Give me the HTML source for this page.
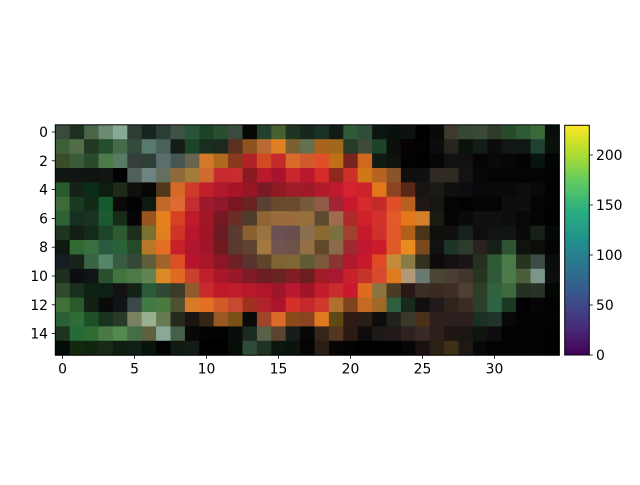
<!DOCTYPE html>
<html><head><meta charset="utf-8"><style>
body{margin:0;background:#fff;}
svg text{font-family:"DejaVu Sans","Liberation Sans",sans-serif;font-size:13.9px;fill:#000;}
</style></head><body>
<svg id="chart" width="640" height="480" xmlns="http://www.w3.org/2000/svg">
<defs><linearGradient id="vir" x1="0" y1="1" x2="0" y2="0">
<stop offset="0" stop-color="#440154"/><stop offset="0.125" stop-color="#472d7b"/><stop offset="0.25" stop-color="#3b528b"/><stop offset="0.375" stop-color="#2c728e"/><stop offset="0.5" stop-color="#21918c"/><stop offset="0.625" stop-color="#28ae80"/><stop offset="0.75" stop-color="#5ec962"/><stop offset="0.875" stop-color="#addc30"/><stop offset="1" stop-color="#fde725"/></linearGradient></defs>
<g id="cells"></g>
<rect x="55.3" y="124.8" width="504" height="230.4" fill="none" stroke="#000" stroke-width="1"/>
<g id="xt"></g>
<g id="yt"></g>
<rect x="564.7" y="125.3" width="24.6" height="229.7" fill="url(#vir)" stroke="#000" stroke-width="1"/>
<g id="ct"></g>
</svg>
<script>
const rows=[
"3a4a3e 1e3020 4a6448 6a8a72 88a898 2e3e32 182420 2a3e36 3e5244 2a5238 1e4228 284e30 3a4a40 060604 24402a 466030 1e3420 18261c 183224 121c14 2e5a38 2e4e38 0a1410 0a100c 0c1210 000000 0a0a0a 3e3a30 344834 3a4a34 2e3a2a 2a4a2c 2e5a34 3a6a38 0a0e0a",
"3e6038 526e48 243624 244e2c 466a48 344a3a 587a6c 4a625a 141e16 1c4428 1a2e20 1c2a1e 5a3020 8e5420 b86a30 e08024 7a6030 647050 a86418 a0681c 283a28 3e4a38 1c4228 0c0e0c 060204 020202 0c0c0c 26261e 0a120c 121c16 0c0c0c 121614 101816 204030 0a100c",
"3a4c28 3a5a38 2a4a2c 4c7a4a 5a7a66 343e3a 2e4036 5a6e6e 465652 686450 d4782a b06a1c 8a3a1c b02428 d44a24 c42a2c d86a2c d05a2c e05028 c07018 7a2420 d06820 101a12 101210 020204 000000 060606 121010 121010 060404 0a0808 080606 040202 081410 020404",
"101612 121414 101410 121612 020204 52605a 6e8480 64705e 906a3a a07c3a d06a30 c42c30 c82c2c 8a1a22 b81a2c a81430 c8262c b8182e d42a28 902820 cc3028 d07818 b86222 8a5428 100e0e 101010 302a22 302a22 141212 080606 040404 040404 040404 060404 020202",
"285a2e 142218 0a2e18 0e1c12 1e2a1a 0e100c 060604 54381e d46a24 d03a28 c0202c b0182c a81428 981624 7a1a24 8e1a24 9e1c28 9e1a28 b01a2a c01a30 d4222e cc222c e07818 8a4420 5a2818 181414 1a1a16 100e0e 0e0c10 0a0808 0a0808 0a0808 0e0c0c 0a0808 020202",
"3e6a38 1a3a20 142a18 145a2c 0a0808 020204 0e1a10 c06a2a e06a30 c42e30 a0182c 90182a 7a1620 6a2420 5a4034 6a4a2c 6a4c2c 765a3a 905c48 a02434 c8182c d42a2c c42a28 e05028 b86020 201618 141612 040404 020202 040404 040404 0e0e0e 0e0e0e 040404 020202",
"2e6234 163020 183420 1e5a30 182a18 060406 9a5420 e4801e d84024 be1a2c a01828 781822 6a2e24 4e3c2c 906434 9a6c3c 9a6c3c 96703a 5e4a30 a06a4c b02a2a d0202c d4302c e05a2a e47818 d4802a 1a1a10 040404 0a0a0a 101010 101010 0e0e0e 080808 040404 000000",
"1e3420 121e16 142a1a 1e4428 2e5a30 1e2e1c 7a7030 e0801e d03428 b8162c a01628 6a1a20 5a3a30 8a6030 9a7440 6a5052 6a4e4e 8a7052 8a6a30 7a7040 a04030 c41a2c d0302c e05828 b06018 4a3418 0e100c 101010 182020 0e0e10 121414 101414 0a0a0a 142018 040808",
"0e1a10 326a34 386e40 2a5a40 2a6238 244a28 b87828 e46e24 c82028 b0162c a01628 701a20 5a3a30 5e4430 a07840 705450 6e5248 947044 604828 8a6a48 9e2a30 c01830 cc1c2c e05a28 e88c20 7a4a1e 101212 1e3426 2e3a2a 2a2220 142018 2e5432 101210 0c0e0a 040404",
"161e24 182418 386444 56866a 3a5a44 344838 5e5e3a a0642a dc5024 b81430 a81628 8c1628 6e2024 5a3430 5e4428 7e6434 806634 605a36 7a5a3a 8a3434 b0182c c81a2c e04a24 c48c3a 8a7a48 32301e 0e0a0a 141010 1a1418 26301e 2e5a34 4a7a48 263420 3e4c48 0a0c0c",
"1e2e1e 0e0e12 101414 2a5030 427440 4e7a4a 628450 dc8a28 e06a20 c8402e c0202c a81828 981a28 801a26 6a1e24 6a2420 801e22 6a1e20 a01a28 a81830 c8202c c43428 d84a2e e07a20 b09878 6a7a72 4a4432 4a3e32 42362c 263420 30583a 4c7a48 4a5e3a 7a968a 0c0e0e",
"304a2e 18301c 0e2214 0e2014 121212 142218 2a5a38 304834 3a3c28 905a2c c82a2c be1a2c c01c2c b8182c b0162a 9e162c ba1830 a01428 c01c2c c82c2c c81a2c e06a20 8a7440 4a3c24 2a1614 3a2e26 3a2a22 3e2e26 4e4032 2e3e2a 326240 3e6a3e 223222 2a3228 040604",
"3e7038 2a5a2c 122012 0a0a0a 101416 3a4a4a 427a44 4a7a40 4e5030 d87a26 e46e24 d05a28 c84830 a03020 b0222c ac142c d43028 c4282c d03a2c b07030 7e4420 c46a24 a06a26 2e6040 182a1a 120e0e 221a1a 2e241c 3a2c24 2e3e2e 2e6444 1a3a24 020002 060406 020202",
"2a6034 2e6c38 1e5028 183420 2a3a28 7a8060 98b090 6a7a50 262a1c 1c1410 362616 9a5824 7a5018 0a0a08 a04428 dc6a28 8a4a18 8a4420 e07a20 5e4814 2e1c14 2a1e16 100c0e 22221c 3a3828 4a3018 2e1e1c 2a2020 2e1e1e 1a3020 20342a 080808 020202 020202 020402",
"1e3420 266a38 2e6c34 4a7a44 548a50 446e48 5e6040 8aa898 44604a 0a0806 040202 020202 0a0e0a 1a2a1e 5a6048 5a4430 161e1c 060606 34241a 543620 2a1a12 0e0c0e 1e1a18 221a1a 2e2220 382a24 2e1e1c 1e1612 1a1614 101410 0e0c10 020202 020202 020202 000000",
"040a06 14280e 10260e 182a16 0e1e10 102014 08140a 020202 101a10 141a14 000000 000000 060e08 304a3a 203224 0c160e 0a140c 040404 2a1e14 060404 020202 000000 000000 000000 060606 1a1210 2a2214 3e3018 1e1812 080808 020202 020202 020202 020202 000000"
];
const xTicks=[0,5,10,15,20,25,30];
const yTicks=[0,2,4,6,8,10,12,14];
const cbTicks=[0,50,100,150,200];
const cbMax=229.7;
const NS="http://www.w3.org/2000/svg";
const X0=55.3,Y0=124.8,CW=14.4,CH=14.4;
const sx=c=>X0+c*CW, sy=r=>Y0+r*CH;
const cbY=v=>355-(v/cbMax)*229.7;
function mk(t,a){const e=document.createElementNS(NS,t);for(const k in a)e.setAttribute(k,a[k]);return e;}
const cells=document.getElementById('cells');
rows.forEach((row,r)=>{row.split(' ').forEach((h,c)=>{
 const e=mk('rect',{x:sx(c),y:sy(r),width:CW+0.4,height:CH+0.4,fill:'#'+h});
 
 
 cells.appendChild(e);});});
const xt=document.getElementById('xt');
xTicks.forEach(v=>{const x=sx(v+0.5);
 const l=mk('line',{x1:x,x2:x,y1:355.2,y2:358.7,stroke:'#000','stroke-width':0.8});
 
 
 xt.appendChild(l);
 const t=mk('text',{x:x,y:373.5,'text-anchor':'middle'});t.textContent=v;
 
 
 xt.appendChild(t);});
const yt=document.getElementById('yt');
yTicks.forEach(v=>{const y=sy(v+0.5);
 const l=mk('line',{x1:51.8,x2:55.3,y1:y,y2:y,stroke:'#000','stroke-width':0.8});
 
 
 yt.appendChild(l);
 const t=mk('text',{x:48,y:y+5,'text-anchor':'end'});t.textContent=v;
 
 
 yt.appendChild(t);});
const ct=document.getElementById('ct');
cbTicks.forEach(v=>{const y=cbY(v);
 const l=mk('line',{x1:589.3,x2:592.8,y1:y,y2:y,stroke:'#000','stroke-width':0.8});
 
 
 ct.appendChild(l);
 const t=mk('text',{x:596,y:y+5});t.textContent=v;
 
 
 ct.appendChild(t);});
</script>
</body></html>
